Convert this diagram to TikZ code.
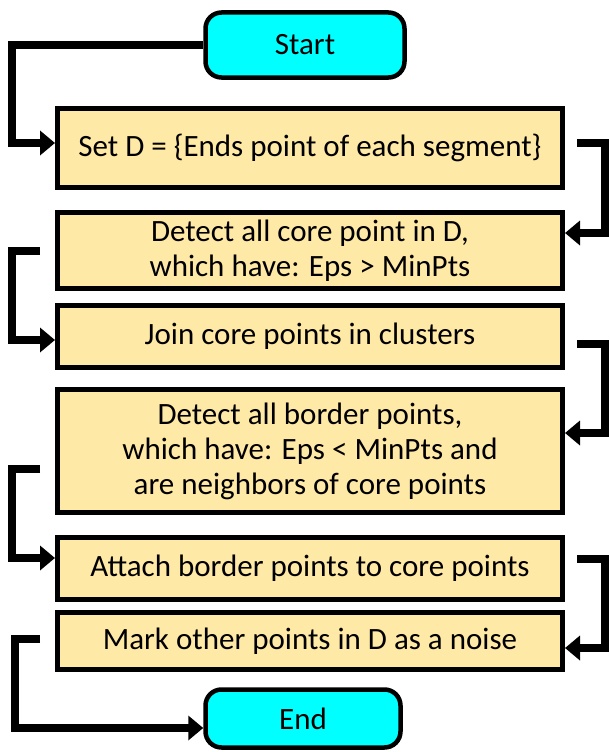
\documentclass[tikz,border=0pt]{standalone}
\usepackage{fontspec}
\setmainfont{Carlito}
\usetikzlibrary{arrows.meta}
\definecolor{boxfill}{RGB}{255,233,166}
\definecolor{termfill}{RGB}{0,255,255}

\begin{document}
\begin{tikzpicture}[x = 1pt, y = -1pt,
term/.style = {shape = rectangle, rounded corners = 16pt, draw = black, fill = termfill, line width = 4.5pt, minimum width = 199pt, minimum height = 65pt, inner sep = 0pt, font = \fontsize{31}{35}\selectfont},
proc/.style = {shape = rectangle, draw = black, fill = boxfill, line width = 5pt, minimum width = 505pt, inner sep = 0pt, align = center, font = \fontsize{31}{35}\selectfont},
link/.style = {line width = 8pt, -{Triangle[length = 15pt, width = 24pt]}},
]
\useasboundingbox (0, 0) rectangle (610, 752);

\node[term] (start) at (305, 45) {Start};
\node[proc, minimum height = 79pt] (setD) at (310, 148) {Set D = \{Ends point of each segment\}};
\node[proc, minimum height = 76pt] (core) at (310, 250.5) {Detect all core point in D,\\ which have: Eps > MinPts};
\node[proc, minimum height = 62pt] (join) at (310, 336.5) {Join core points in clusters};
\node[proc, minimum height = 123pt] (border) at (310, 451) {Detect all border points,\\ which have: Eps < MinPts and\\ are neighbors of core points};
\node[proc, minimum height = 62pt] (attach) at (310, 568.5) {Attach border points to core points};
\node[proc, minimum height = 57pt] (noise) at (310, 641) {Mark other points in D as a noise};
\node[term, minimum width = 195pt, minimum height = 58pt] (finish) at (303, 718.5) {End};

\draw[link] (start.west) -- ++(-191, 0) |- ([yshift = 5pt]setD.west);
\draw[link] ([xshift = 12pt, yshift = 5pt]setD.east) -- ++(28, 0) |- ([yshift = 17.5pt]core.east);
\draw[link] ([xshift = -15pt]core.west) -- ++(-28, 0) |- ([yshift = -3.5pt]join.west);
\draw[link] ([xshift = 12pt, yshift = -7.5pt]join.east) -- ++(28, 0) |- ([yshift = 18pt]border.east);
\draw[link] ([xshift = -15pt, yshift = -18pt]border.west) -- ++(-28, 0) |- ([yshift = 10.5pt]attach.west);
\draw[link] ([xshift = 12pt, yshift = 9.5pt]attach.east) -- ++(28, 0) |- ([yshift = -7pt]noise.east);
\draw[link] ([xshift = -15pt, yshift = 2pt]noise.west) -- ++(-25, 0) |- ([yshift = -9.5pt]finish.west);
\end{tikzpicture}
\end{document}
